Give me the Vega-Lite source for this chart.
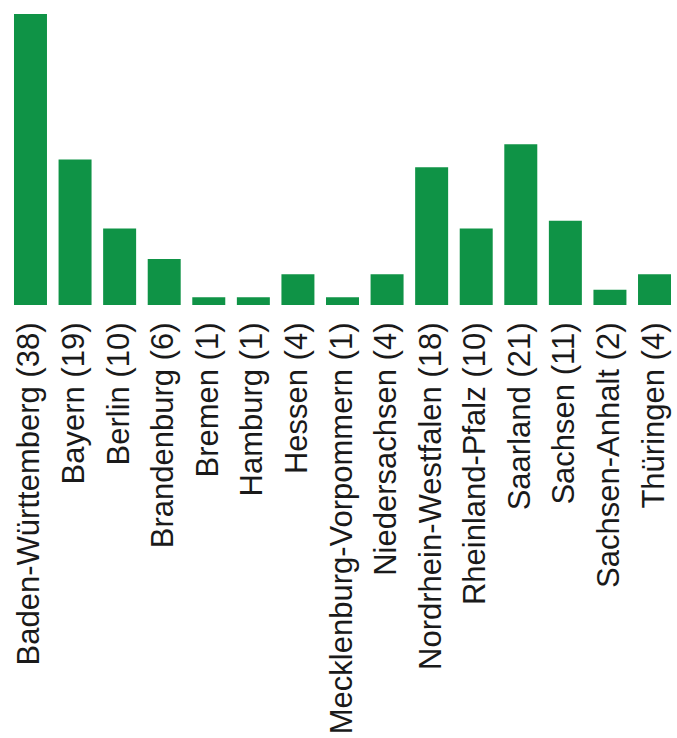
{
  "$schema": "https://vega.github.io/schema/vega-lite/v6.json",
  "autosize": {"type": "none"},
  "padding": {"left": 0, "top": 14, "right": 0, "bottom": 433},
  "width": 685,
  "height": 291,
  "background": "white",
  "data": {"values": [
    {"land": "Baden-Württemberg (38)", "n": 38},
    {"land": "Bayern (19)", "n": 19},
    {"land": "Berlin (10)", "n": 10},
    {"land": "Brandenburg (6)", "n": 6},
    {"land": "Bremen (1)", "n": 1},
    {"land": "Hamburg (1)", "n": 1},
    {"land": "Hessen (4)", "n": 4},
    {"land": "Mecklenburg-Vorpommern (1)", "n": 1},
    {"land": "Niedersachsen (4)", "n": 4},
    {"land": "Nordrhein-Westfalen (18)", "n": 18},
    {"land": "Rheinland-Pfalz (10)", "n": 10},
    {"land": "Saarland (21)", "n": 21},
    {"land": "Sachsen (11)", "n": 11},
    {"land": "Sachsen-Anhalt (2)", "n": 2},
    {"land": "Thüringen (4)", "n": 4}
  ]},
  "mark": {"type": "bar", "color": "#0f9346"},
  "encoding": {
    "x": {
      "field": "land", "type": "nominal", "sort": null,
      "scale": {"paddingInner": 0.26, "paddingOuter": 0.314},
      "axis": {
        "title": null, "domain": false, "ticks": false,
        "labelAngle": -90, "labelAlign": "right", "labelBaseline": "middle",
        "labelPadding": 17, "labelFont": "Liberation Sans", "labelFontSize": 31,
        "labelColor": "#1a1a1a", "labelLimit": 0
      }
    },
    "y": {
      "field": "n", "type": "quantitative",
      "scale": {"domain": [0, 38], "nice": false},
      "axis": null
    }
  },
  "config": {"view": {"stroke": null}}
}
